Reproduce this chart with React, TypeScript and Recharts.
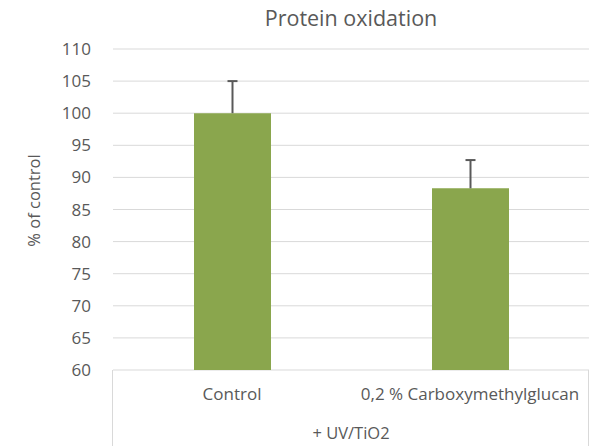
import { BarChart, Bar, XAxis, YAxis, CartesianGrid, ErrorBar, Label } from "recharts";

const categories = ["Control", "0,2 % Carboxymethylglucan"];
const values = [100, 88.3];
const errors = [5, 4.4];
const groupLabel = "+ UV/TiO2";
const yTicks = [60, 65, 70, 75, 80, 85, 90, 95, 100, 105, 110];

const W = 590;
const H = 446;
const MARGIN = { top: 49, right: 1, bottom: 0, left: 0 };
const Y_WIDTH = 113;
const CAT_H = 40;
const GRP_H = 36;
const TEXT = "#595959";
const FONT = "'Open Sans', sans-serif";

const data = categories.map((name, i) => ({
  name,
  group: groupLabel,
  value: values[i],
  err: [0, errors[i]],
}));

const CategoryTick = (props: any) => {
  const { x, y, payload } = props;
  return (
    <text x={x} y={y} dy={22} textAnchor="middle" fill={TEXT} fontSize={17} fontFamily={FONT}>
      {payload.value}
    </text>
  );
};

const GroupTick = (props: any) => {
  const { x, y, payload } = props;
  const top = H - CAT_H - GRP_H;
  const left = MARGIN.left + Y_WIDTH - 0.5;
  const right = W - MARGIN.right - 0.5;
  return (
    <g>
      <line x1={left} y1={top} x2={left} y2={H} stroke="#d9d9d9" />
      <line x1={right} y1={top} x2={right} y2={H} stroke="#d9d9d9" />
      <text x={x} y={y} dy={21} textAnchor="middle" fill={TEXT} fontSize={16.5} fontFamily={FONT}>
        {payload.value}
      </text>
    </g>
  );
};

export default function App() {
  return (
    <div style={{ position: "absolute", left: 0, top: 0, width: W, height: H, background: "#fff" }}>
      <style>{".recharts-errorBar line:nth-of-type(3){display:none}"}</style>
      <div
        style={{
          position: "absolute",
          top: 3,
          left: MARGIN.left + Y_WIDTH,
          width: W - MARGIN.left - Y_WIDTH - MARGIN.right,
          textAlign: "center",
          fontFamily: FONT,
          fontSize: 21.5,
          color: TEXT,
        }}
      >
        Protein oxidation
      </div>
      <BarChart width={W} height={H} data={data} margin={MARGIN}>
        <CartesianGrid vertical={false} stroke="#d9d9d9" strokeWidth={1} />
        <XAxis
          xAxisId="cat"
          dataKey="name"
          height={CAT_H}
          axisLine={false}
          tickLine={false}
          tick={<CategoryTick />}
          interval={0}
        />
        <XAxis
          xAxisId="grp"
          dataKey="group"
          allowDuplicatedCategory={false}
          height={GRP_H}
          axisLine={false}
          tickLine={false}
          tick={<GroupTick />}
        />
        <YAxis
          domain={[60, 110]}
          ticks={yTicks}
          width={Y_WIDTH}
          axisLine={false}
          tickLine={false}
          tickMargin={16}
          tick={{ fill: TEXT, fontSize: 17, fontFamily: FONT }}
          interval={0}
        >
          <Label
            content={(p: any) => {
              const vb = p.viewBox;
              const cx = 33;
              const cy = vb.y + vb.height / 2 - 9;
              return (
                <text
                  x={cx}
                  y={cy}
                  transform={`rotate(-90 ${cx} ${cy})`}
                  textAnchor="middle"
                  dominantBaseline="central"
                  fill={TEXT}
                  fontSize={16.5}
                  fontFamily={FONT}
                >
                  % of control
                </text>
              );
            }}
          />
        </YAxis>
        <Bar dataKey="value" xAxisId="cat" fill="#8aa64d" barSize={77} isAnimationActive={false}>
          <ErrorBar dataKey="err" direction="y" width={5} stroke="#595959" strokeWidth={2} />
        </Bar>
      </BarChart>
    </div>
  );
}
